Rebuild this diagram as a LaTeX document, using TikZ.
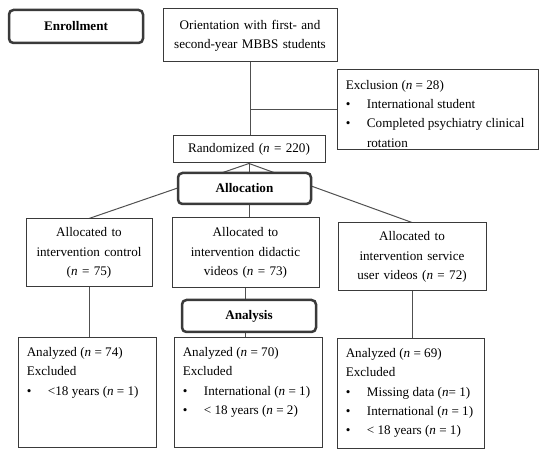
\documentclass[tikz,border=0pt]{standalone}
\usepackage{fontspec}
\setmainfont{Liberation Serif}
\usetikzlibrary{backgrounds}
\definecolor{framegray}{HTML}{3A3A3A}
\definecolor{linegray}{HTML}{505050}
\newcommand{\flowfont}{\fontsize{10.5pt}{15.5pt}\selectfont}
\tikzstyle{box} = [draw = framegray, line width = 0.8pt, fill = white, inner sep = 0pt, align = center]
\tikzstyle{stage} = [box, line width = 2pt, rounded corners = 3.5pt, font = \flowfont\bfseries]
\tikzstyle{link} = [line width = 0.8pt, color = linegray]
\newcommand{\bitem}[1]{\par\hangindent=17pt\hangafter=1\noindent\makebox[17pt][l]{\textbullet}#1}
\newcommand{\listbox}[3]{\parbox[c][#2][t]{#1}{\raggedright #3}}

\begin{document}
\begin{tikzpicture}[x=0.8pt, y=-0.8pt, font=\flowfont]
	\useasboundingbox (0,0) rectangle (550,458);

	% Stages
	\node (enrol) [stage, minimum width=107.2pt, minimum height=26.4pt] at (76,26.5) {Enrollment};
	\node (alloc) [stage, minimum width=106.4pt, minimum height=24.8pt] at (244.5,188.5) {Allocation};
	\node (analysis) [stage, minimum width=107.2pt, minimum height=25.6pt] at (249,316) {Analysis};

	% Enrollment
	\node (orient) [box, text width=139.2pt, minimum height=42.4pt] at (250,35.5) {Orientation with first- and\\ second-year MBBS students};
	\node (excl) [box, inner xsep=7pt, inner ysep=8pt] at (437.5,110) {\listbox{146.8pt}{48pt}{Exclusion (\textit{n} = 28)\bitem{International student}\bitem{Completed psychiatry clinical rotation}}};
	\node (rand) [box, text width=121.6pt, minimum height=21.6pt] at (249,149.5) {Randomized (\textit{n} = 220)};

	% Allocation
	\node (allocL) [box, text width=100.8pt, minimum height=54.4pt] at (89,253) {Allocated to\\ intervention control\\ (\textit{n} = 75)};
	\node (allocM) [box, text width=117.6pt, minimum height=56pt] at (245.5,253) {Allocated to\\ intervention didactic\\ videos (\textit{n} = 73)};
	\node (allocR) [box, text width=118.4pt, minimum height=54.4pt] at (412,257) {Allocated to\\ intervention service\\ user videos (\textit{n} = 72)};

	% Analysis
	\node (anaL) [box, inner xsep=7pt, inner ysep=7.5pt] at (87,393) {\listbox{96.4pt}{73pt}{Analyzed (\textit{n} = 74)\par Excluded\bitem{<18 years (\textit{n} = 1)}}};
	\node (anaM) [box, inner xsep=7pt, inner ysep=7.5pt] at (248,393) {\listbox{104.4pt}{73pt}{Analyzed (\textit{n} = 70)\par Excluded\bitem{International (\textit{n} = 1)}\bitem{< 18 years (\textit{n} = 2)}}};
	\node (anaR) [box, inner xsep=7pt, inner ysep=7.5pt] at (410.5,394) {\listbox{103.6pt}{73pt}{Analyzed (\textit{n} = 69)\par Excluded\bitem{Missing data (\textit{n}= 1)}\bitem{International (\textit{n} = 1)}\bitem{< 18 years (\textit{n} = 1)}}};

	% Links
	\begin{scope}[on background layer]
		\draw[link] (orient.south) -- (orient.south |- rand.north);
		\draw[link] (orient.south |- excl.west) -- (excl.west);
		\draw[link] (rand.south) -- (allocL.north);
		\draw[link] (rand.south) -- (rand.south |- allocM.north);
		\draw[link] (rand.south) -- (allocR.north);
		\draw[link] (allocL.south) -- (allocL.south |- anaL.north);
		\draw[link] (allocM.south) -- (allocM.south |- anaM.north);
		\draw[link] (allocR.south) -- (allocR.south |- anaR.north);
	\end{scope}
\end{tikzpicture}
\end{document}
